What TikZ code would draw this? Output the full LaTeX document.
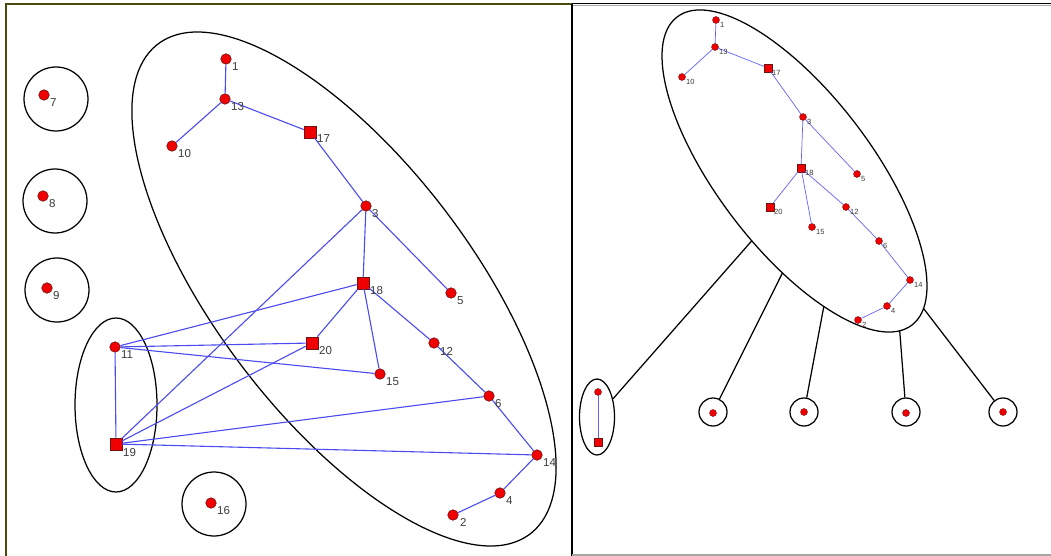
\documentclass[tikz,border=0pt]{standalone}
\usepackage{fontspec}
\setmainfont{Liberation Sans}
\usetikzlibrary{shapes.geometric}
\definecolor{edgeblue}{RGB}{75,75,240}
\definecolor{edgeblueR}{RGB}{100,100,250}
\definecolor{olive}{RGB}{75,75,15}
\definecolor{labgray}{RGB}{60,60,60}
\definecolor{nodered}{RGB}{240,0,0}
\definecolor{nodeedge}{RGB}{110,20,20}
\tikzset{
  ldot/.style={circle,fill=nodered,draw=nodeedge,line width=0.6pt,inner sep=0pt,minimum size=10.5pt},
  lsq/.style={rectangle,fill=nodered,draw=nodeedge,line width=0.6pt,inner sep=0pt,minimum size=12pt},
  rdot/.style={circle,fill=nodered,draw=nodeedge,line width=0.4pt,inner sep=0pt,minimum size=7pt},
  rsq/.style={rectangle,fill=nodered,draw=nodeedge,line width=0.4pt,inner sep=0pt,minimum size=7.5pt},
  llab/.style={anchor=west,inner sep=0pt,text=labgray,font=\fontsize{11.5}{12}\selectfont},
  rlab/.style={anchor=west,inner sep=0pt,text=labgray,font=\fontsize{7.5}{8}\selectfont},
  ledge/.style={draw=edgeblue,line width=1.1pt},
  redge/.style={draw=edgeblueR,line width=0.7pt},
  blk/.style={draw=black,line width=1.25pt},
  ring/.style={circle,draw=black,line width=1.25pt,inner sep=0pt},
}
\begin{document}
\begin{tikzpicture}[x=1pt,y=-1pt]
\useasboundingbox (0,0) rectangle (1051,556);
\fill[white] (0,0) rectangle (1051,556);
% frames
\draw[olive,line width=1.6pt] (5,4) -- (572,4);
\draw[olive,line width=1.6pt] (6,4) -- (6,556);
\draw[black,line width=1.2pt] (572,3.6) -- (1051,3.6);
\draw[gray!70,line width=0.8pt] (572,5.4) -- (1051,5.4);
\draw[black,line width=2pt] (572,4) -- (572,556);
\draw[gray!70,line width=1.2pt] (572,555) -- (1051,555);

% ===== left panel =====
\begin{scope}[shift={(344,289)},rotate=-52.8]
  \draw[blk] (0,0) ellipse [x radius=307.6pt, y radius=128pt];
\end{scope}
\node[ring,minimum size=64pt] (c7) at (56,99) {};
\node[ring,minimum size=64pt] (c8) at (55,201) {};
\node[ring,minimum size=64pt] (c9) at (57,290) {};
\node[ring,minimum size=64pt] (c16) at (214,504) {};
\node[ellipse,draw=black,line width=1.25pt,minimum width=82pt,minimum height=174pt,inner sep=0pt] (e1119) at (116,405) {};

\node[ldot] (n1) at (226,59) {};
\node[ldot] (n13) at (225,99) {};
\node[ldot] (n10) at (172,146) {};
\node[lsq] (n17) at (310,132) {};
\node[ldot] (n3) at (366,206) {};
\node[lsq] (n18) at (363,283) {};
\node[ldot] (n5) at (451,293) {};
\node[lsq] (n20) at (312,343) {};
\node[ldot] (n12) at (434,343) {};
\node[ldot] (n15) at (380,374) {};
\node[ldot] (n6) at (489,396) {};
\node[ldot] (n14) at (537,455) {};
\node[ldot] (n4) at (500,493) {};
\node[ldot] (n2) at (453,515) {};
\node[ldot] (n11) at (115,347) {};
\node[lsq] (n19) at (116,444) {};
\node[ldot] (n7) at (44,95) {};
\node[ldot] (n8) at (43,196) {};
\node[ldot] (n9) at (47,288) {};
\node[ldot] (n16) at (211,503) {};

\foreach \a/\b in {1/13,13/10,13/17,17/3,3/18,3/5,3/19,18/11,18/20,18/15,18/12,12/6,6/14,14/4,4/2,11/20,11/15,11/19,19/20,19/6,19/14}
  \draw[ledge] (n\a) -- (n\b);

\node[llab] (t1) at (232,67) {1};
\node[llab] (t13) at (231,107) {13};
\node[llab] (t10) at (178,154) {10};
\node[llab] (t17) at (317,139) {17};
\node[llab] (t3) at (372,214) {3};
\node[llab] (t18) at (370,291) {18};
\node[llab] (t5) at (457,301) {5};
\node[llab] (t20) at (319,351) {20};
\node[llab] (t12) at (440,351) {12};
\node[llab] (t15) at (386,382) {15};
\node[llab] (t6) at (495,404) {6};
\node[llab] (t14) at (543,463) {14};
\node[llab] (t4) at (506,501) {4};
\node[llab] (t2) at (460,522) {2};
\node[llab] (t11) at (121,355) {11};
\node[llab] (t19) at (123,453) {19};
\node[llab] (t7) at (50,103) {7};
\node[llab] (t8) at (49,204) {8};
\node[llab] (t9) at (53,296) {9};
\node[llab] (t16) at (217,511) {16};

% ===== right panel =====
\begin{scope}[shift={(794.5,171)},rotate=-52.7]
  \draw[blk] (0,0) ellipse [x radius=193.7pt, y radius=77.2pt];
  \coordinate (E1) at (-81.2:193.7pt and 77.2pt);
  \coordinate (E2) at (-67.6:193.7pt and 77.2pt);
  \coordinate (E3) at (-49.6:193.7pt and 77.2pt);
  \coordinate (E4) at (-9.8:193.7pt and 77.2pt);
  \coordinate (E5) at (14.5:193.7pt and 77.2pt);
\end{scope}

\node[ellipse,draw=black,line width=1.25pt,minimum width=35pt,minimum height=76pt,inner sep=0pt] (pe) at (597,417) {};
\node[ring,minimum size=28pt] (q1) at (713,412) {};
\node[ring,minimum size=28pt] (q2) at (804,412) {};
\node[ring,minimum size=28pt] (q3) at (906,412) {};
\node[ring,minimum size=28pt] (q4) at (1003,412) {};
\draw[blk] (E1) -- (pe);
\draw[blk] (E2) -- (q1);
\draw[blk] (E3) -- (q2);
\draw[blk] (E4) -- (q3);
\draw[blk] (E5) -- (q4);

\node[rdot] (pa) at (598,392) {};
\node[rsq] (pb) at (598,442) {};
\draw[redge] (pa) -- (pb);
\node[rdot] (d1) at (713,413) {};
\node[rdot] (d2) at (804,412) {};
\node[rdot] (d3) at (906,413) {};
\node[rdot] (d4) at (1003,412) {};

\node[rdot] (r1) at (716,20) {};
\node[rdot] (r13) at (715,47) {};
\node[rdot] (r10) at (682,77) {};
\node[rsq] (r17) at (768,68) {};
\node[rdot] (r3) at (803,117) {};
\node[rdot] (r5) at (857,174) {};
\node[rsq] (r18) at (801,168) {};
\node[rsq] (r20) at (770,207) {};
\node[rdot] (r12) at (846,207) {};
\node[rdot] (r15) at (812,227) {};
\node[rdot] (r6) at (879,241) {};
\node[rdot] (r14) at (910,280) {};
\node[rdot] (r4) at (887,306) {};
\node[rdot] (r2) at (858,320) {};
\foreach \a/\b in {1/13,13/10,13/17,17/3,3/5,3/18,18/20,18/15,18/12,12/6,6/14,14/4,4/2}
  \draw[redge] (r\a) -- (r\b);

\node[rlab] (s1) at (720,25) {1};
\node[rlab] (s13) at (719,52) {13};
\node[rlab] (s10) at (686,82) {10};
\node[rlab] (s17) at (772,73) {17};
\node[rlab] (s3) at (807,122) {3};
\node[rlab] (s5) at (861,179) {5};
\node[rlab] (s18) at (805,173) {18};
\node[rlab] (s20) at (774,212) {20};
\node[rlab] (s12) at (850,212) {12};
\node[rlab] (s15) at (816,232) {15};
\node[rlab] (s6) at (883,246) {6};
\node[rlab] (s14) at (914,285) {14};
\node[rlab] (s4) at (891,311) {4};
\node[rlab] (s2) at (862,325) {2};
\end{tikzpicture}
\end{document}
